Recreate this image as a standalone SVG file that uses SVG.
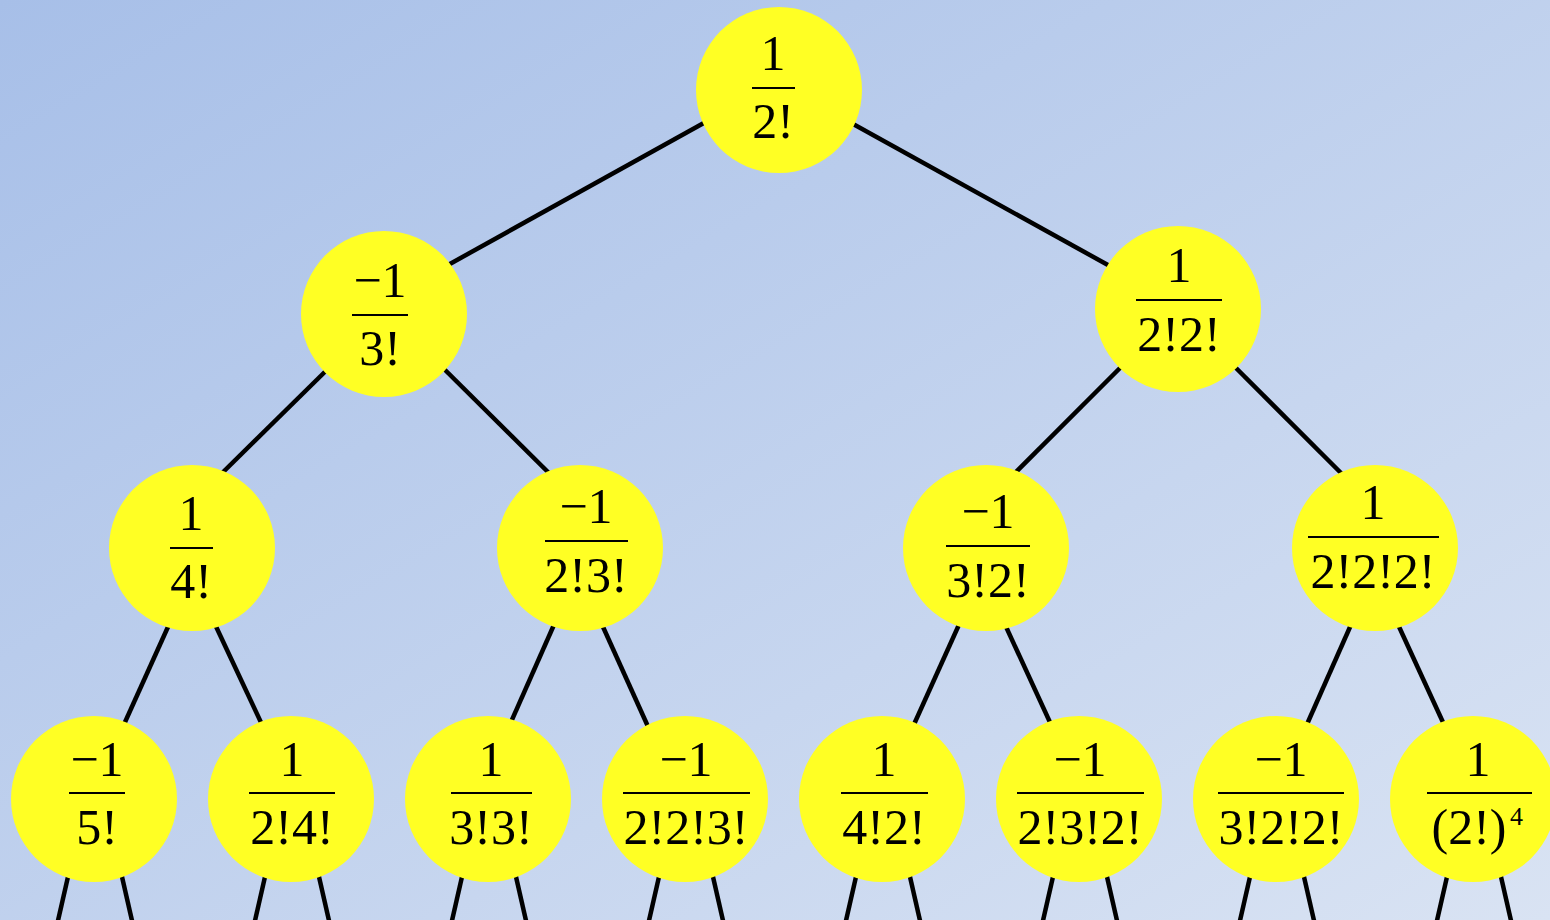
<svg xmlns="http://www.w3.org/2000/svg" width="1550" height="920" viewBox="0 0 1550 920">
<defs>
<linearGradient id="bg" x1="0" y1="0" x2="1" y2="1">
<stop offset="0" stop-color="#a7bfe8"/>
<stop offset="1" stop-color="#d9e3f3"/>
</linearGradient>
<style>
.c{fill:#ffff24;}
.e{stroke:#000;stroke-width:4.5;stroke-linecap:butt;fill:none;}
.b{stroke:#000;stroke-width:2;}
.t{font-family:"Liberation Serif","Times New Roman",serif;font-size:50px;fill:#000;text-anchor:middle;}
.s{font-family:"Liberation Serif","Times New Roman",serif;font-size:26px;fill:#000;}
</style>
</defs>
<rect width="1550" height="920" fill="url(#bg)"/>
<g id="connectors">
<line class="e" x1="720" y1="114" x2="430" y2="275"/>
<line class="e" x1="835" y1="114" x2="1126" y2="275"/>
<line class="e" x1="340" y1="357" x2="210" y2="485"/>
<line class="e" x1="432" y1="357" x2="561" y2="485"/>
<line class="e" x1="1130" y1="358" x2="1003" y2="485"/>
<line class="e" x1="1226" y1="358" x2="1353" y2="485"/>
<line class="e" x1="172" y1="618" x2="121" y2="731"/>
<line class="e" x1="212" y1="618" x2="265" y2="731"/>
<line class="e" x1="557" y1="618" x2="507" y2="731"/>
<line class="e" x1="599" y1="618" x2="650" y2="731"/>
<line class="e" x1="962" y1="618" x2="911" y2="731"/>
<line class="e" x1="1002" y1="618" x2="1054" y2="731"/>
<line class="e" x1="1354" y1="618" x2="1304" y2="731"/>
<line class="e" x1="1395" y1="618" x2="1447" y2="731"/>
<line class="e" x1="70" y1="868" x2="57" y2="925"/>
<line class="e" x1="120" y1="868" x2="133" y2="925"/>
<line class="e" x1="267" y1="868" x2="254" y2="925"/>
<line class="e" x1="317" y1="868" x2="330" y2="925"/>
<line class="e" x1="464" y1="868" x2="451" y2="925"/>
<line class="e" x1="514" y1="868" x2="527" y2="925"/>
<line class="e" x1="661" y1="868" x2="648" y2="925"/>
<line class="e" x1="711" y1="868" x2="724" y2="925"/>
<line class="e" x1="858" y1="868" x2="845" y2="925"/>
<line class="e" x1="908" y1="868" x2="921" y2="925"/>
<line class="e" x1="1055" y1="868" x2="1042" y2="925"/>
<line class="e" x1="1105" y1="868" x2="1118" y2="925"/>
<line class="e" x1="1252" y1="868" x2="1239" y2="925"/>
<line class="e" x1="1302" y1="868" x2="1315" y2="925"/>
<line class="e" x1="1449" y1="868" x2="1436" y2="925"/>
<line class="e" x1="1499" y1="868" x2="1512" y2="925"/>
</g>
<g id="n0"><circle class="c" cx="779" cy="90" r="83"/><text class="t" x="773" y="70">1</text><line class="b" x1="752" y1="88" x2="795" y2="88"/><text class="t" x="773" y="138">2!</text></g>
<g id="n1"><circle class="c" cx="384" cy="314" r="83"/><text class="t" x="380" y="297">−1</text><line class="b" x1="352" y1="315" x2="408" y2="315"/><text class="t" x="380" y="365">3!</text></g>
<g id="n2"><circle class="c" cx="1178" cy="309" r="83"/><text class="t" x="1179" y="282">1</text><line class="b" x1="1136" y1="300" x2="1222" y2="300"/><text class="t" x="1179" y="351">2!2!</text></g>
<g id="n3"><circle class="c" cx="192" cy="548" r="83"/><text class="t" x="191" y="530">1</text><line class="b" x1="170" y1="548" x2="213" y2="548"/><text class="t" x="191" y="598">4!</text></g>
<g id="n4"><circle class="c" cx="580" cy="548" r="83"/><text class="t" x="586" y="523">−1</text><line class="b" x1="545" y1="541" x2="628" y2="541"/><text class="t" x="586" y="592">2!3!</text></g>
<g id="n5"><circle class="c" cx="986" cy="548" r="83"/><text class="t" x="988" y="528">−1</text><line class="b" x1="946" y1="546" x2="1030" y2="546"/><text class="t" x="988" y="597">3!2!</text></g>
<g id="n6"><circle class="c" cx="1375" cy="548" r="83"/><text class="t" x="1373" y="519">1</text><line class="b" x1="1308" y1="537" x2="1439" y2="537"/><text class="t" x="1373" y="588">2!2!2!</text></g>
<g id="n7"><circle class="c" cx="94" cy="799" r="83"/><text class="t" x="97" y="776">−1</text><line class="b" x1="69" y1="793" x2="125" y2="793"/><text class="t" x="97" y="844">5!</text></g>
<g id="n8"><circle class="c" cx="291" cy="799" r="83"/><text class="t" x="292" y="776">1</text><line class="b" x1="249" y1="793" x2="335" y2="793"/><text class="t" x="292" y="844">2!4!</text></g>
<g id="n9"><circle class="c" cx="488" cy="799" r="83"/><text class="t" x="491" y="776">1</text><line class="b" x1="451" y1="793" x2="532" y2="793"/><text class="t" x="491" y="844">3!3!</text></g>
<g id="n10"><circle class="c" cx="685" cy="799" r="83"/><text class="t" x="686" y="776">−1</text><line class="b" x1="623" y1="793" x2="750" y2="793"/><text class="t" x="686" y="844">2!2!3!</text></g>
<g id="n11"><circle class="c" cx="882" cy="799" r="83"/><text class="t" x="884" y="776">1</text><line class="b" x1="841" y1="793" x2="928" y2="793"/><text class="t" x="884" y="844">4!2!</text></g>
<g id="n12"><circle class="c" cx="1079" cy="799" r="83"/><text class="t" x="1080" y="776">−1</text><line class="b" x1="1017" y1="793" x2="1144" y2="793"/><text class="t" x="1080" y="844">2!3!2!</text></g>
<g id="n13"><circle class="c" cx="1276" cy="799" r="83"/><text class="t" x="1281" y="776">−1</text><line class="b" x1="1218" y1="793" x2="1344" y2="793"/><text class="t" x="1281" y="844">3!2!2!</text></g>
<g id="n14"><circle class="c" cx="1473" cy="799" r="83"/><text class="t" x="1478" y="776">1</text><line class="b" x1="1427" y1="793" x2="1532" y2="793"/><text class="t" x="1469" y="844">(2!)</text><text class="s" x="1510" y="825">4</text></g>
</svg>
